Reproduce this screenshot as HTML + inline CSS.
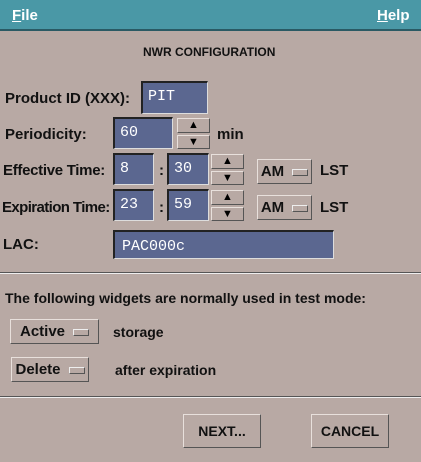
<!DOCTYPE html>
<html><head><style>
body{margin:0;width:421px;height:462px;background:#b8a9a4;font-family:"Liberation Sans",sans-serif;font-weight:bold;font-size:14px;color:#111;position:relative;overflow:hidden}
.a{position:absolute;white-space:nowrap}
.mb{left:0;top:0;width:421px;height:31px;background:#4a98a6;border-bottom:2px solid #2a5a64;box-sizing:border-box}
.f{background:#5b6790;border-top:2px solid #222;border-left:2px solid #222;border-bottom:1px solid #ddd;border-right:1px solid #ddd;box-sizing:border-box;color:#fff;font-family:"Liberation Mono",monospace;font-weight:normal;font-size:15px;padding:5px 0 0 5px}
.b{border:1px solid;border-color:#e8e0dc #555 #555 #e8e0dc;box-sizing:border-box;text-align:center}
.s{font-size:11px;color:#000}
.ind{display:inline-block;width:14px;height:5px;border:1px solid;border-color:#eee #555 #555 #eee;vertical-align:middle;margin-left:8px}
.sep{left:0;width:421px;height:0;border-top:1px solid #555;border-bottom:1px solid #eee}
</style></head><body>
<div class="a mb"></div>
<div class="a" style="left:12px;top:7px;color:#fff;font-size:15px"><u>F</u>ile</div>
<div class="a" style="left:377px;top:7px;color:#fff;font-size:15px"><u>H</u>elp</div>
<div class="a" style="left:143px;top:45px;font-size:12px">NWR CONFIGURATION</div>

<div class="a" style="left:5px;top:90px;font-size:15px">Product ID (XXX):</div>
<div class="a f" style="left:141px;top:81px;width:67px;height:33px">PIT</div>

<div class="a" style="left:5px;top:126px;font-size:15px">Periodicity:</div>
<div class="a f" style="left:113px;top:117px;width:60px;height:32px">60</div>
<div class="a b s" style="left:177px;top:118px;width:33px;height:15px;line-height:13px">▲</div>
<div class="a b s" style="left:177px;top:135px;width:33px;height:14px;line-height:12px">▼</div>
<div class="a" style="left:217px;top:126px;font-size:15px">min</div>

<div class="a" style="left:3px;top:162px;font-size:15px;letter-spacing:-0.3px">Effective Time:</div>
<div class="a f" style="left:113px;top:153px;width:41px;height:32px">8</div>
<div class="a" style="left:159px;top:162px;font-size:15px">:</div>
<div class="a f" style="left:167px;top:153px;width:42px;height:32px">30</div>
<div class="a b s" style="left:211px;top:154px;width:33px;height:15px;line-height:13px">▲</div>
<div class="a b s" style="left:211px;top:171px;width:33px;height:14px;line-height:12px">▼</div>
<div class="a b" style="left:257px;top:159px;width:55px;height:25px;line-height:23px;font-size:15px">AM<span class="ind"></span></div>
<div class="a" style="left:320px;top:162px;font-size:15px">LST</div>

<div class="a" style="left:2px;top:199px;font-size:15px;letter-spacing:-0.6px">Expiration Time:</div>
<div class="a f" style="left:113px;top:189px;width:41px;height:32px">23</div>
<div class="a" style="left:159px;top:199px;font-size:15px">:</div>
<div class="a f" style="left:167px;top:189px;width:42px;height:32px">59</div>
<div class="a b s" style="left:211px;top:190px;width:33px;height:15px;line-height:13px">▲</div>
<div class="a b s" style="left:211px;top:207px;width:33px;height:14px;line-height:12px">▼</div>
<div class="a b" style="left:257px;top:195px;width:55px;height:25px;line-height:23px;font-size:15px">AM<span class="ind"></span></div>
<div class="a" style="left:320px;top:199px;font-size:15px">LST</div>

<div class="a" style="left:3px;top:236px;font-size:15px">LAC:</div>
<div class="a f" style="left:113px;top:230px;width:221px;height:29px;padding-top:6px;padding-left:7px">PAC000c</div>

<div class="a sep" style="top:272px"></div>
<div class="a" style="left:5px;top:290px;font-size:14px">The following widgets are normally used in test mode:</div>

<div class="a b" style="left:10px;top:319px;width:89px;height:25px;line-height:23px;font-size:15px">Active<span class="ind"></span></div>
<div class="a" style="left:113px;top:324px;font-size:14px">storage</div>
<div class="a b" style="left:11px;top:357px;width:78px;height:25px;line-height:23px;font-size:15px">Delete<span class="ind"></span></div>
<div class="a" style="left:115px;top:362px;font-size:14px">after expiration</div>

<div class="a sep" style="top:396px"></div>
<div class="a b" style="left:183px;top:414px;width:78px;height:34px;line-height:32px;font-size:14px">NEXT...</div>
<div class="a b" style="left:311px;top:414px;width:78px;height:34px;line-height:32px;font-size:14px">CANCEL</div>
</body></html>
